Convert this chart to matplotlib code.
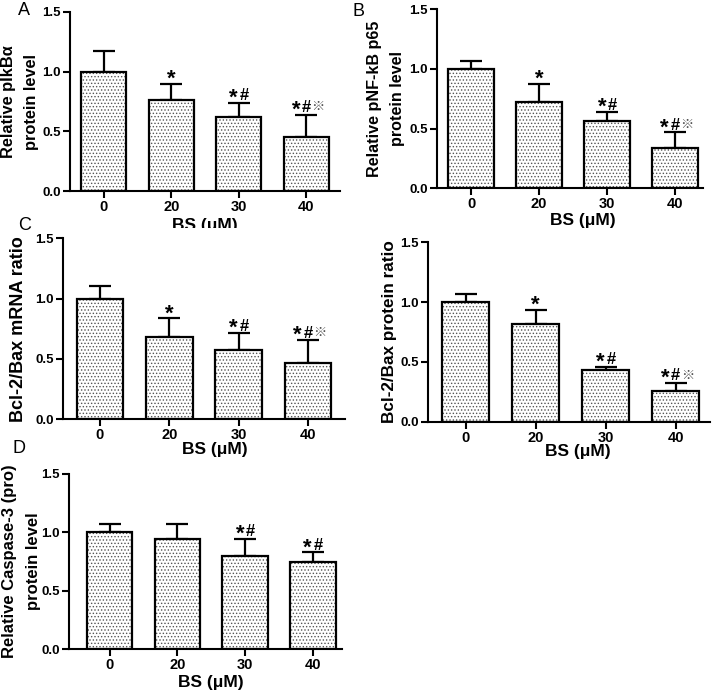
import matplotlib
matplotlib.use('Agg')
import matplotlib.pyplot as plt
from matplotlib.transforms import Bbox

plt.rcParams['font.family'] = ['Liberation Sans', 'Noto Sans CJK SC', 'DejaVu Sans']
plt.rcParams['font.weight'] = 'bold'
plt.rcParams['hatch.linewidth'] = 0.6

doses = ['0', '20', '30', '40']

# bar heights and upper error (SD)
ikba_mean = [1.00, 0.76, 0.62, 0.455]
ikba_sd = [0.17, 0.14, 0.12, 0.185]
p65_mean = [1.00, 0.72, 0.567, 0.338]
p65_sd = [0.07, 0.155, 0.073, 0.132]
mrna_mean = [1.00, 0.684, 0.575, 0.468]
mrna_sd = [0.10, 0.152, 0.139, 0.188]
prot_mean = [1.00, 0.817, 0.432, 0.257]
prot_sd = [0.07, 0.117, 0.028, 0.069]
casp_mean = [1.00, 0.945, 0.80, 0.75]
casp_sd = [0.075, 0.125, 0.145, 0.08]

marks_abc = ['', '*', '*#', '*#\u203b']
marks_d = ['', '', '*#', '*#']

W, H = 714, 693
fig = plt.figure(figsize=(W / 100, H / 100), dpi=100)


def px_axes(l, t, r, b):
    return fig.add_axes([l / W, 1 - b / H, (r - l) / W, (b - t) / H])


def mark(ax, x, top, s):
    n = len(s)
    for i, ch in enumerate(s):
        dx = (i - (n - 1) / 2) * 7.5
        if ch == '*':
            ax.annotate(ch, (x, top), xytext=(dx, -0.8), textcoords='offset points',
                        ha='center', va='baseline', fontsize=16, fontweight='bold')
        elif ch == '#':
            ax.annotate(ch, (x, top), xytext=(dx, 1.7), textcoords='offset points',
                        ha='center', va='baseline', fontsize=12, fontweight='bold')
        else:
            ax.annotate(ch, (x, top), xytext=(dx + 1, 3), textcoords='offset points',
                        ha='center', va='baseline', fontsize=9.5, fontweight='normal',
                        color='#444444')


def panel(box, xlim, means, sds, marks, ylabel, ysize, ylab_x, xlab_pos):
    ax = px_axes(*box)
    x = range(len(doses))
    ax.bar(x, means, width=0.67, color='white', edgecolor='#555555', linewidth=0,
           hatch='.....', zorder=2)
    ax.bar(x, means, width=0.67, fill=False, edgecolor='black', linewidth=1.6, zorder=3)
    ax.errorbar(x, means, yerr=[[0] * len(means), sds], fmt='none', ecolor='black',
                elinewidth=1.6, capsize=8, capthick=1.6, zorder=1)
    for xi, m, sd, s in zip(x, means, sds, marks):
        if s:
            mark(ax, xi, m + sd, s)
    ax.set_xlim(*xlim)
    ax.set_ylim(0, 1.5)
    ax.set_yticks([0, 0.5, 1.0, 1.5])
    ax.set_yticklabels(['0.0', '0.5', '1.0', '1.5'])
    ax.set_xticks(list(x))
    ax.set_xticklabels(doses)
    ax.tick_params(length=5, width=1.5, pad=1.5)
    ax.tick_params(axis='x', labelsize=10.5)
    ax.tick_params(axis='y', labelsize=9.5)
    for sp in ['top', 'right']:
        ax.spines[sp].set_visible(False)
    for sp in ['left', 'bottom']:
        ax.spines[sp].set_linewidth(1.5)
    ax.set_ylabel(ylabel, fontsize=ysize, fontweight='bold', linespacing=1.7)
    ax.yaxis.set_label_coords(ylab_x, 0.5)
    xl = ax.set_xlabel('BS (\u03bcM)', fontsize=12.5, fontweight='bold')
    ax.xaxis.set_label_coords(*xlab_pos)
    return ax, xl


axA, xlA = panel((70, 12, 340, 191), (-0.5, 3.5), ikba_mean, ikba_sd, marks_abc,
                 'Relative pIkB\u03b1\nprotein level', 11.8, -0.115, (0.5, -0.15))
panel((437, 9.3, 703, 188.3), (-0.5, 3.41), p65_mean, p65_sd, marks_abc,
      'Relative pNF-kB p65\nprotein level', 11.6, -0.12, (0.55, -0.14))
panel((63, 238.3, 345, 419), (-0.53, 3.53), mrna_mean, mrna_sd, marks_abc,
      'Bcl-2/Bax mRNA ratio', 13, -0.128, (0.54, -0.13))
panel((428, 242.3, 710, 421.7), (-0.54, 3.49), prot_mean, prot_sd, marks_abc,
      'Bcl-2/Bax protein ratio', 12.3, -0.11, (0.53, -0.125))
panel((69, 474, 342, 649), (-0.6, 3.43), casp_mean, casp_sd, marks_d,
      'Relative Caspase-3 (pro)\nprotein level', 12, -0.103, (0.52, -0.149))

# the lower panel covers the bottom of panel A's axis title
xlA.set_clip_box(Bbox.from_extents(0, H - 228, W, H))
xlA.set_clip_on(True)

for letter, lx, ly in [('A', 18, 15), ('B', 353, 16), ('C', 18, 230), ('D', 13, 453)]:
    fig.text(lx / W, 1 - ly / H, letter, fontsize=13, fontweight='normal', va='baseline')

fig.savefig('out.png', dpi=100)
